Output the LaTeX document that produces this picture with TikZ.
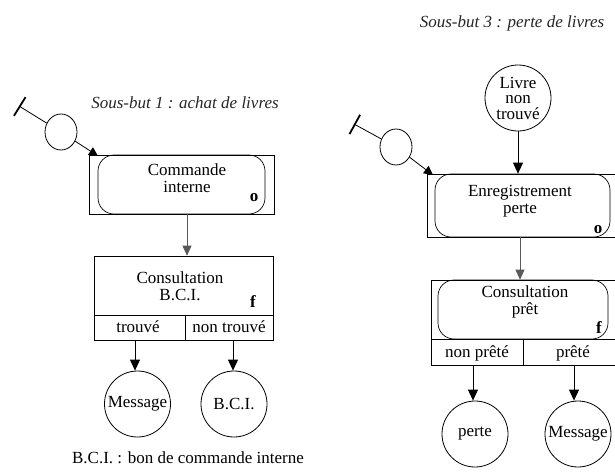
\documentclass[tikz,border=0pt]{standalone}
\usepackage{fontspec}
\setmainfont{Liberation Serif}
\usetikzlibrary{arrows.meta,shapes.geometric}
\tikzset{
  txt/.style={font=\fontsize{17}{17.5}\selectfont, inner sep=0pt, align=center},
  ttl/.style={font=\fontsize{17}{18}\selectfont\itshape, inner sep=0pt, text=black!85},
  flagl/.style={font=\fontsize{17}{18}\selectfont\bfseries, inner sep=0pt},
  frame/.style={draw, line width=0.7pt, inner sep=0pt, rectangle},
  rframe/.style={draw, line width=0.7pt, inner sep=0pt, rectangle, rounded corners=16pt},
  state/.style={draw, circle, line width=0.8pt, inner sep=0pt, minimum size=66pt,
    font=\fontsize{17}{16}\selectfont, align=center},
  port/.style={draw, ellipse, line width=0.8pt, inner sep=0pt, minimum width=32pt, minimum height=36pt},
  grayarrow/.style={draw=black!65, line width=0.8pt, -{Triangle[length=10pt,width=9pt,fill=black!65]}},
  blackarrow/.style={draw=black, line width=0.9pt, -{Triangle[length=11pt,width=10pt]}},
  portarrow/.style={draw=black, line width=0.8pt, -{Triangle[length=9pt,width=9pt]}},
  tbar/.style={draw=black, line width=0.8pt, {Bar[width=22pt,line width=1.8pt]}-},
}
\begin{document}
\begin{tikzpicture}[x=1pt,y=-1pt]
\useasboundingbox[fill=white] (0,0) rectangle (615,471);

% ---------------- Sous-but 1 ----------------
\node[ttl] (t1) at (185,103) {Sous-but 1 : achat de livres};

\node[frame, minimum width=185pt, minimum height=59pt] (oA) at (181.5,184.5) {};
\node[rframe, minimum width=167pt, minimum height=59pt] (iA) at (181.5,184.5) {};
\node[txt] (lA) at (187,178) {Commande\\interne};
\node[flagl] (fA) at (254,198) {o};

\coordinate (barA) at (19,106);
\node[port] (pA) at (61,132) {};
\coordinate (tipA) at (98,156);
\draw[tbar] (barA) -- (pA);
\draw[portarrow] (pA) -- (tipA);

\node[frame, minimum width=179pt, minimum height=59pt] (cB) at (183.5,285.5) {};
\node[frame, minimum width=91pt, minimum height=25pt] (cB1) at (139.5,327.5) {};
\node[frame, minimum width=88pt, minimum height=25pt] (cB2) at (229,327.5) {};
\node[txt] (lB) at (180,286) {Consultation\\B.C.I.};
\node[flagl] (fB) at (253,302) {f};
\node[txt] (lB1) at (138,327) {trouvé};
\node[txt] (lB2) at (229,327) {non trouvé};

\draw[grayarrow] (oA.south -| 187,0) -- (cB.north -| 187,0);

\node[state] (mA) at (137.5,404) {Message};
\node[state] (bA) at (234,404) {B.C.I.};
\draw[blackarrow] (cB1.south -| 135,0) -- (mA.north -| 135,0);
\draw[blackarrow] (cB2.south -| 233,0) -- (bA.north -| 233,0);

\node[txt] (note) at (188,458) {B.C.I. : bon de commande interne};

% ---------------- Sous-but 3 ----------------
\node[ttl] (t3) at (512,23) {Sous-but 3 : perte de livres};

\node[state, font=\fontsize{17}{15.5}\selectfont] (liv) at (518,98) {Livre\\non\\trouvé};

\node[frame, minimum width=195pt, minimum height=63pt] (oE) at (524.5,205.5) {};
\node[rframe, minimum width=175pt, minimum height=63pt] (iE) at (522.5,205.5) {};
\node[txt] (lE) at (520,201) {Enregistrement\\perte};
\node[flagl] (fE) at (598,230) {o};

\coordinate (barE) at (354,124);
\node[port] (pE) at (396,147) {};
\coordinate (tipE) at (433,175);
\draw[tbar] (barE) -- (pE);
\draw[portarrow] (pE) -- (tipE);

\draw[blackarrow] (liv) -- (oE.north -| liv);

\node[frame, minimum width=191pt, minimum height=59pt] (oC) at (526.5,309.5) {};
\node[rframe, minimum width=170pt, minimum height=59pt] (iC) at (523,309.5) {};
\node[frame, minimum width=92pt, minimum height=26pt] (oC1) at (477,352) {};
\node[frame, minimum width=99pt, minimum height=26pt] (oC2) at (572.5,352) {};
\node[txt] (lC) at (525,302) {Consultation\\prêt};
\node[flagl] (fC) at (599,328) {f};
\node[txt] (lC1) at (477,353) {non prêté};
\node[txt] (lC2) at (573,353) {prêté};

\draw[grayarrow] (oE.south -| lE) -- (oC.north -| lE);

\node[state] (pe) at (475,434) {perte};
\node[state] (mC) at (578,434) {Message};
\draw[blackarrow] (oC1.south -| 473,0) -- (pe.north -| 473,0);
\draw[blackarrow] (oC2.south -| 574,0) -- (mC.north -| 574,0);
\end{tikzpicture}
\end{document}
